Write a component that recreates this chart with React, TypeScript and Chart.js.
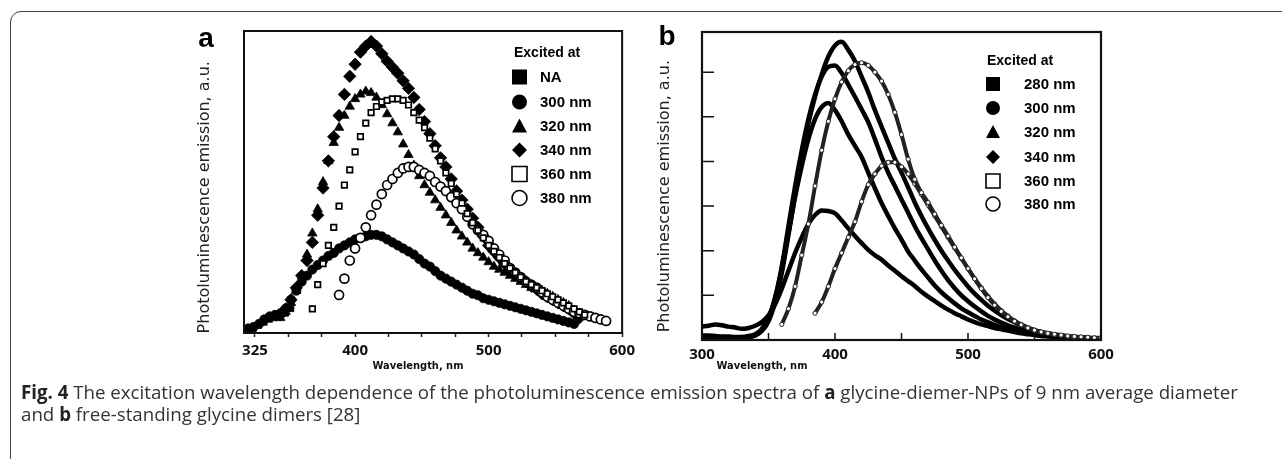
import React, { useEffect, useRef } from 'react';
import { Chart, registerables } from 'chart.js';

Chart.register(...registerables);

// ---------------- Panel a : glycine-diemer-NPs ----------------
const wavelengthA = [316, 320, 324, 328, 332, 336, 340, 344, 348, 352, 356, 360, 364, 368, 372, 376, 380, 384, 388, 392, 396, 400, 404, 408, 412, 416, 420, 424, 428, 432, 436, 440, 444, 448, 452, 456, 460, 464, 468, 472, 476, 480, 484, 488, 492, 496, 500, 504, 508, 512, 516, 520, 524, 528, 532, 536, 540, 544, 548, 552, 556, 560, 564, 568, 572, 576, 580, 584, 588, 592, 596, 600];

const aNA = [0.5, 1, 1.5, 2.5, 3.5, 4.5, 5, 5.5, 6.5, 8];
const a300 = [1, 1.5, 2, 3, 4.5, 5.5, 6, 6.5, 8, 11, 14, 17, 19, 21, 22.5, 24, 25.5, 26.5, 28, 29, 30, 31, 31.5, 32, 32.5, 32.5, 32, 31, 30, 29, 28, 27, 26, 24.5, 23, 22, 20.5, 19, 18, 17, 16, 15, 14, 13, 12.5, 11.5, 11, 10.5, 10, 9.5, 9, 8.5, 8, 7.5, 7, 6.5, 6, 5.5, 5, 4.5, 4, 3.5, 3];
const a320 = [null, null, null, null, null, null, null, 5, 7, 10, 14, 19, 26, 33, 41, 50, 57, 63, 68, 72, 75, 77.5, 79, 80, 79.5, 78, 75.5, 72.5, 69.5, 66.5, 62.5, 59, 55.5, 52, 49, 46.5, 44, 41.5, 39, 36.5, 34, 32, 30, 28, 26.5, 25, 23.5, 22, 21, 20, 19, 18, 17, 16, 15, 14.5, 14, 13, 12, 11, 10, 9, 7.5, 6];
const a340 = [null, null, null, null, null, null, null, 6, 8, 11, 15, 19, 24, 30, 39, 48, 57, 65, 72, 79, 85, 89, 93, 95, 96.5, 95, 92.5, 90, 88, 86, 83.5, 81, 78, 74, 70, 66, 62, 58, 55, 51, 47, 44, 41, 38, 35, 32, 29, 27, 25, 23, 21, 19, 18, 17, 15.5, 14.5, 13, 12, 11, 10, 9, 8, 6.5, 5];
const a360 = [null, null, null, null, null, null, null, null, null, null, null, null, null, 8, 16, 23, 29, 35, 42, 49, 54, 60, 65, 69.5, 73, 75, 76.5, 77, 77.5, 77.5, 77, 75.5, 73, 70.5, 68, 64.5, 61, 57, 53, 49.5, 46, 43, 39.5, 36.5, 34, 31.5, 29, 27, 25, 23, 21.5, 20, 18.5, 17, 16, 15, 14, 13, 12, 11, 10, 9, 8, 7, 6];
const a380 = [null, null, null, null, null, null, null, null, null, null, null, null, null, null, null, null, null, null, 12.6, 18, 24, 28, 31.5, 35, 39, 42.5, 46, 49, 51, 53, 54.5, 55, 55, 54, 53, 52, 50, 48.5, 47, 45, 43, 41, 38.5, 36, 34, 32.5, 30.5, 28, 26, 24, 21.5, 20, 18.5, 17, 16, 15, 13.5, 12, 11, 10, 9, 8, 7, 6.5, 6, 5.5, 5, 4.5, 4];

const xTicksA = [325, 350, 375, 400, 425, 450, 475, 500, 525, 550, 575, 600];
const xLabelsA = [325, 400, 500, 600];
const legendA = ['NA', '300 nm', '320 nm', '340 nm', '360 nm', '380 nm'];

// ---------------- Panel b : free-standing glycine dimers ----------------
const wavelengthB = [300, 305, 310, 315, 320, 325, 330, 335, 340, 345, 350, 355, 360, 365, 370, 375, 380, 385, 390, 395, 400, 405, 410, 415, 420, 425, 430, 435, 440, 445, 450, 455, 460, 465, 470, 475, 480, 485, 490, 495, 500, 505, 510, 515, 520, 525, 530, 535, 540, 545, 550, 555, 560, 565, 570, 575, 580, 585, 590, 595, 600];

const b280 = [0.3, 0.32, 0.35, 0.33, 0.3, 0.28, 0.25, 0.27, 0.32, 0.4, 0.55, 0.8, 1.15, 1.55, 1.95, 2.3, 2.6, 2.8, 2.9, 2.89, 2.84, 2.68, 2.5, 2.33, 2.17, 2.02, 1.9, 1.8, 1.67, 1.55, 1.43, 1.32, 1.21, 1.08, 0.97, 0.87, 0.77, 0.68, 0.6, 0.53, 0.46, 0.4, 0.35, 0.31, 0.27, 0.24, 0.21, 0.18, 0.15, 0.13, 0.11, 0.09, 0.08, 0.07, 0.06, 0.05, 0.04, 0.03, 0.03, 0.02, 0.02];
const b300 = [0.1, 0.1, 0.09, 0.08, 0.08, 0.07, 0.07, 0.09, 0.13, 0.25, 0.5, 0.95, 1.6, 2.4, 3.2, 3.9, 4.5, 4.95, 5.22, 5.31, 5.15, 4.9, 4.6, 4.35, 4.1, 3.75, 3.4, 3.07, 2.78, 2.5, 2.25, 1.98, 1.78, 1.58, 1.4, 1.22, 1.07, 0.94, 0.82, 0.71, 0.62, 0.54, 0.46, 0.4, 0.34, 0.29, 0.25, 0.21, 0.18, 0.15, 0.13, 0.11, 0.09, 0.08, 0.07, 0.06, 0.05, 0.04, 0.03, 0.03, 0.02];
const b320 = [0.06, 0.06, 0.05, 0.05, 0.05, 0.05, 0.05, 0.07, 0.1, 0.22, 0.48, 0.95, 1.65, 2.55, 3.45, 4.25, 4.95, 5.5, 5.9, 6.12, 6.15, 5.98, 5.72, 5.45, 5.17, 4.88, 4.5, 4.1, 3.75, 3.45, 3.15, 2.85, 2.55, 2.28, 2.03, 1.78, 1.55, 1.34, 1.16, 1.0, 0.87, 0.75, 0.64, 0.54, 0.46, 0.39, 0.33, 0.28, 0.23, 0.19, 0.16, 0.13, 0.11, 0.09, 0.07, 0.06, 0.05, 0.04, 0.03, 0.03, 0.02];
const b340 = [0.04, 0.04, 0.04, 0.04, 0.04, 0.04, 0.05, 0.06, 0.1, 0.2, 0.42, 0.85, 1.5, 2.35, 3.25, 4.1, 4.85, 5.45, 5.95, 6.35, 6.6, 6.68, 6.5, 6.25, 5.9, 5.55, 5.15, 4.78, 4.42, 4.06, 3.75, 3.42, 3.08, 2.78, 2.5, 2.24, 2.0, 1.78, 1.57, 1.38, 1.2, 1.04, 0.9, 0.77, 0.66, 0.56, 0.47, 0.4, 0.33, 0.27, 0.22, 0.18, 0.15, 0.12, 0.1, 0.08, 0.06, 0.05, 0.04, 0.03, 0.02];
const b360 = [null, null, null, null, null, null, null, null, null, null, null, null, 0.35, 0.7, 1.2, 1.9, 2.6, 3.45, 4.25, 4.9, 5.4, 5.78, 6.03, 6.17, 6.21, 6.15, 6.0, 5.8, 5.5, 5.1, 4.6, 4.05, 3.6, 3.3, 3.08, 2.82, 2.57, 2.33, 2.08, 1.84, 1.6, 1.37, 1.15, 0.95, 0.78, 0.64, 0.52, 0.42, 0.34, 0.27, 0.22, 0.18, 0.15, 0.13, 0.11, 0.09, 0.08, 0.07, 0.06, 0.05, 0.05];
const b380 = [null, null, null, null, null, null, null, null, null, null, null, null, null, null, null, null, null, 0.6, 0.85, 1.2, 1.6, 1.95, 2.3, 2.65, 3.1, 3.48, 3.72, 3.9, 3.98, 3.98, 3.88, 3.72, 3.5, 3.26, 3.02, 2.78, 2.54, 2.3, 2.06, 1.83, 1.6, 1.38, 1.17, 0.98, 0.81, 0.66, 0.54, 0.43, 0.35, 0.28, 0.22, 0.18, 0.15, 0.12, 0.1, 0.08, 0.07, 0.06, 0.05, 0.04, 0.04];

const xTicksB = [300, 350, 400, 450, 500, 550, 600];
const xLabelsB = [300, 400, 500, 600];
const yTicksB = [1, 2, 3, 4, 5, 6];
const legendB = ['280 nm', '300 nm', '320 nm', '340 nm', '360 nm', '380 nm'];

const xTitle = 'Wavelength, nm';
const yTitle = 'Photoluminescence emission, a.u.';

// ---------------- helpers ----------------
type Shape = 'rect' | 'circle' | 'triangle' | 'rectRot';
const markerShapes: Shape[] = ['rect', 'circle', 'triangle', 'rectRot', 'rect', 'circle'];
const markerFilled = [true, true, true, true, false, false];

function toPoints(xs: number[], ys: (number | null)[]) {
  const pts: { x: number; y: number }[] = [];
  xs.forEach((x, i) => {
    const y = ys[i];
    if (y !== null && y !== undefined) pts.push({ x, y });
  });
  return pts;
}

function drawShape(ctx: CanvasRenderingContext2D, shape: Shape, x: number, y: number, s: number, filled: boolean) {
  const h = s / 2;
  ctx.beginPath();
  if (shape === 'rect') ctx.rect(x - h, y - h, s, s);
  else if (shape === 'circle') ctx.arc(x, y, h, 0, Math.PI * 2);
  else if (shape === 'triangle') {
    ctx.moveTo(x, y - h);
    ctx.lineTo(x + h, y + h * 0.85);
    ctx.lineTo(x - h, y + h * 0.85);
    ctx.closePath();
  } else {
    ctx.moveTo(x, y - h);
    ctx.lineTo(x + h, y);
    ctx.lineTo(x, y + h);
    ctx.lineTo(x - h, y);
    ctx.closePath();
  }
  if (filled) {
    ctx.fillStyle = '#000';
    ctx.fill();
  } else {
    ctx.fillStyle = '#fff';
    ctx.fill();
    ctx.lineWidth = 1.6;
    ctx.strokeStyle = '#000';
    ctx.stroke();
  }
}

interface Deco {
  letter: string;
  letterX: number;
  letterY: number;
  legTitleX: number;
  legTitleY: number;
  markerX: number;
  labelX: number;
  rowsY: number[];
  markerSize: number;
  labels: string[];
  boxWidth: number;
  innerTicks: boolean;
  xTitleX: number;
  xTitleY: number;
}

function decoPlugin(d: Deco) {
  return {
    id: 'deco' + d.letter,
    afterDatasetsDraw(chart: any) {
      const ctx: CanvasRenderingContext2D = chart.ctx;
      const a = chart.chartArea;
      ctx.save();
      // frame
      ctx.strokeStyle = '#111';
      ctx.lineWidth = d.boxWidth;
      ctx.strokeRect(a.left, a.top, a.right - a.left, a.bottom - a.top);
      if (d.innerTicks) {
        const xs = chart.scales.x;
        const ys = chart.scales.y;
        ctx.lineWidth = 1.5;
        ctx.beginPath();
        xTicksB.forEach((v) => {
          const px = xs.getPixelForValue(v);
          ctx.moveTo(px, a.bottom);
          ctx.lineTo(px, a.bottom - 7);
        });
        yTicksB.forEach((v) => {
          const py = ys.getPixelForValue(v);
          ctx.moveTo(a.left, py);
          ctx.lineTo(a.left + 12, py);
        });
        ctx.stroke();
      }
      // panel letter
      ctx.fillStyle = '#000';
      ctx.font = 'bold 28px "Liberation Sans", Arial, sans-serif';
      ctx.textAlign = 'center';
      ctx.textBaseline = 'middle';
      ctx.fillText(d.letter, d.letterX, d.letterY);
      // x-axis title (placed as in the figure, off the plot centre)
      ctx.fillStyle = '#111';
      ctx.font = 'bold 11px "Liberation Sans Narrow", "DejaVu Sans Condensed", "Arial Narrow", sans-serif';
      ctx.fillText(xTitle, d.xTitleX, d.xTitleY);
      // legend
      ctx.fillStyle = '#000';
      ctx.textAlign = 'left';
      ctx.font = 'bold 14px "Liberation Sans", Arial, sans-serif';
      ctx.fillText('Excited at', d.legTitleX, d.legTitleY);
      ctx.font = 'bold 15px "Liberation Sans", Arial, sans-serif';
      d.labels.forEach((lab, i) => {
        drawShape(ctx, markerShapes[i], d.markerX, d.rowsY[i], d.markerSize, markerFilled[i]);
        ctx.fillStyle = '#000';
        ctx.fillText(lab, d.labelX, d.rowsY[i] + 1);
      });
      ctx.restore();
    },
  };
}

const tickFont = { family: '"Open Sans", "Liberation Sans", sans-serif', size: 15, weight: 'bold' as const };
const yTitleFont = { family: '"DejaVu Sans", Verdana, sans-serif', size: 16, weight: 'normal' as const };

function makeConfigA(): any {
  const series = [aNA, a300, a320, a340, a360, a380];
  const radii = [4, 4.6, 5.4, 6.2, 3.9, 4.5];
  const datasets = series.map((ys, i) => ({
    label: legendA[i],
    data: toPoints(wavelengthA, ys),
    pointStyle: markerShapes[i],
    pointRadius: radii[i],
    pointBackgroundColor: markerFilled[i] ? '#000' : '#fff',
    pointBorderColor: '#000',
    pointBorderWidth: markerFilled[i] ? 0.8 : 1.7,
    showLine: false,
    order: markerFilled[i] ? 1 : 0,
  }));
  return {
    type: 'scatter',
    data: { datasets },
    options: {
      animation: false,
      responsive: false,
      events: [],
      layout: { padding: { left: 45, top: 16, right: 12, bottom: 7 } },
      plugins: { legend: { display: false }, tooltip: { enabled: false } },
      scales: {
        x: {
          type: 'linear',
          min: 316.8,
          max: 600,
          afterBuildTicks: (axis: any) => {
            axis.ticks = xTicksA.map((v) => ({ value: v }));
          },
          afterFit: (axis: any) => {
            axis.height = 50;
          },
          ticks: {
            autoSkip: false,
            maxRotation: 0,
            padding: 5,
            color: '#111',
            font: tickFont,
            callback: (v: number) => (xLabelsA.includes(v) ? String(v) : ''),
          },
          grid: { display: true, drawOnChartArea: false, drawTicks: true, tickLength: 4, tickColor: '#222', tickWidth: 1.5 },
          border: { display: false },
          title: { display: false, text: xTitle },
        },
        y: {
          type: 'linear',
          min: 0,
          max: 100,
          afterFit: (axis: any) => {
            axis.width = 49;
          },
          ticks: { display: false },
          grid: { display: false },
          border: { display: false },
          title: { display: true, text: yTitle + '\u00a0\u00a0\u00a0\u00a0\u00a0\u00a0', color: '#222', font: yTitleFont, padding: 0 },
        },
      },
    },
    plugins: [
      decoPlugin({
        letter: 'a',
        letterX: 56,
        letterY: 24,
        legTitleX: 364,
        legTitleY: 38,
        markerX: 369.5,
        labelX: 390,
        rowsY: [62, 87, 111, 135, 159, 183],
        markerSize: 15,
        labels: legendA,
        boxWidth: 2,
        innerTicks: false,
        xTitleX: 268,
        xTitleY: 351,
      }),
    ],
  };
}

function makeConfigB(): any {
  const series = [b280, b300, b320, b340, b360, b380];
  const datasets = series.map((ys, i) => {
    const open = !markerFilled[i];
    return {
      label: legendB[i],
      data: toPoints(wavelengthB, ys),
      showLine: true,
      borderColor: open ? '#222' : '#000',
      borderWidth: open ? 4 : 4.5,
      cubicInterpolationMode: 'monotone',
      pointRadius: open ? 2.1 : 0,
      pointStyle: 'circle',
      pointBackgroundColor: '#fff',
      pointBorderColor: '#222',
      pointBorderWidth: 1,
      order: open ? 0 : 1,
    };
  });
  return {
    type: 'scatter',
    data: { datasets },
    options: {
      animation: false,
      responsive: false,
      events: [],
      layout: { padding: { left: 15, top: 17, right: 19, bottom: 7 } },
      plugins: { legend: { display: false }, tooltip: { enabled: false } },
      scales: {
        x: {
          type: 'linear',
          min: 300,
          max: 600,
          afterBuildTicks: (axis: any) => {
            axis.ticks = xTicksB.map((v) => ({ value: v }));
          },
          afterFit: (axis: any) => {
            axis.height = 43;
          },
          ticks: {
            autoSkip: false,
            maxRotation: 0,
            padding: 6,
            color: '#111',
            font: tickFont,
            callback: (v: number) => (xLabelsB.includes(v) ? String(v) : ''),
          },
          grid: { display: false, drawTicks: false, tickLength: 0 },
          border: { display: false },
          title: { display: false, text: xTitle },
        },
        y: {
          type: 'linear',
          min: 0,
          max: 6.9,
          afterFit: (axis: any) => {
            axis.width = 47;
          },
          ticks: { display: false },
          grid: { display: false },
          border: { display: false },
          title: { display: true, text: yTitle + '\u00a0\u00a0\u00a0\u00a0', color: '#222', font: yTitleFont, padding: 0 },
        },
      },
    },
    plugins: [
      decoPlugin({
        letter: 'b',
        letterX: 27,
        letterY: 22,
        legTitleX: 347,
        legTitleY: 46,
        markerX: 353,
        labelX: 384,
        rowsY: [69, 93, 117, 142, 166, 189],
        markerSize: 14,
        labels: legendB,
        boxWidth: 2.2,
        innerTicks: true,
        xTitleX: 122,
        xTitleY: 351,
      }),
    ],
  };
}

function ChartCanvas(props: { make: () => any; left: number; top: number; width: number; height: number }) {
  const ref = useRef<HTMLCanvasElement>(null);
  useEffect(() => {
    const chart = new Chart(ref.current as HTMLCanvasElement, props.make());
    return () => chart.destroy();
  }, []);
  return (
    <canvas
      ref={ref}
      width={props.width}
      height={props.height}
      style={{ position: 'absolute', left: props.left, top: props.top, width: props.width, height: props.height }}
    />
  );
}

export default function App() {
  const captionFont = '"Open Sans", "Liberation Sans", sans-serif';
  return (
    <div
      style={{
        position: 'fixed',
        left: 0,
        top: 0,
        width: 1282,
        height: 459,
        overflow: 'hidden',
        background: '#fff',
      }}
    >
      <div
        style={{
          position: 'absolute',
          left: 10,
          top: 11,
          width: 1320,
          height: 500,
          border: '1px solid #444',
          borderTopLeftRadius: 11,
          boxSizing: 'border-box',
        }}
      />
      <ChartCanvas make={makeConfigA} left={150} top={15} width={490} height={375} />
      <ChartCanvas make={makeConfigB} left={640} top={15} width={480} height={375} />
      <div
        style={{
          position: 'absolute',
          left: 21,
          top: 381,
          fontFamily: captionFont,
          fontSize: 18.7,
          lineHeight: '22px',
          color: '#333',
          whiteSpace: 'nowrap',
        }}
      >
        <div>
          <b style={{ color: '#222' }}>Fig. 4</b> The excitation wavelength dependence of the photoluminescence emission spectra of{' '}
          <b style={{ color: '#222' }}>a</b> glycine-diemer-NPs of 9 nm average diameter
        </div>
        <div>
          and <b style={{ color: '#222' }}>b</b> free-standing glycine dimers [28]
        </div>
      </div>
    </div>
  );
}
